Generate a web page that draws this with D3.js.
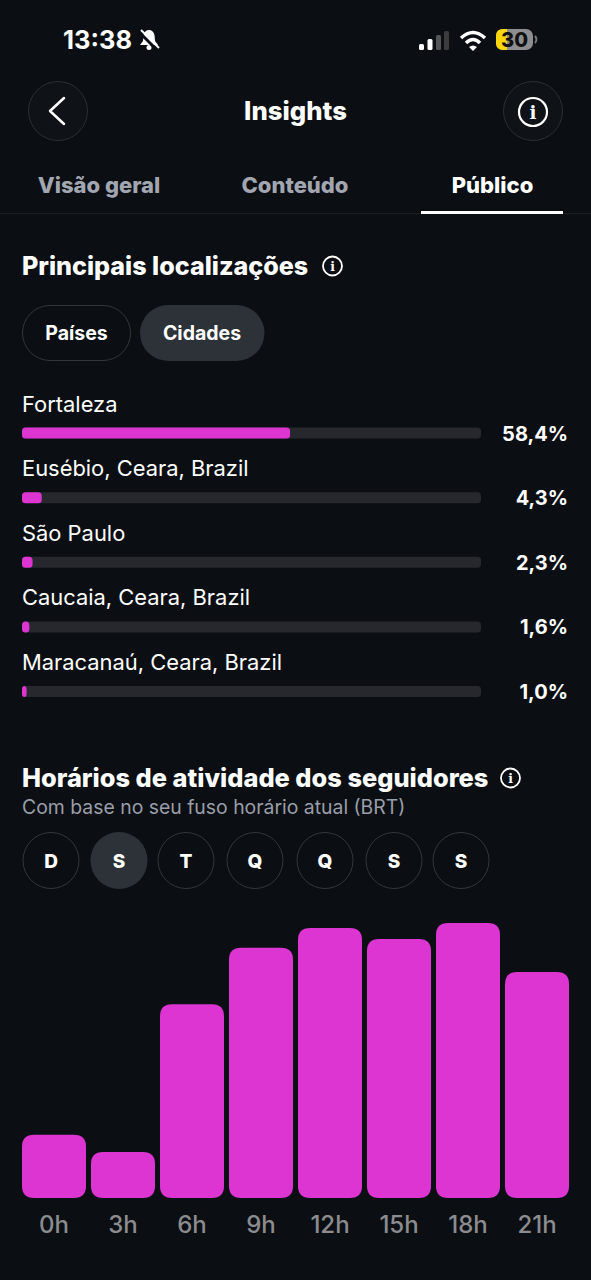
<!DOCTYPE html>
<html><head><meta charset="utf-8">
<script src="https://cdn.jsdelivr.net/npm/d3@7"></script>
<style>html,body{margin:0;padding:0;background:#0b0f14}svg{display:block}text{font-family:Inter,"Noto Sans",sans-serif}</style>
</head><body><svg id="c" width="591" height="1280"></svg>
<script>
const cities=["Fortaleza","Eusébio, Ceara, Brazil","São Paulo","Caucaia, Ceara, Brazil","Maracanaú, Ceara, Brazil"];
const cityValues=[58.4,4.3,2.3,1.6,1.0];
const cityLabels=["58,4%","4,3%","2,3%","1,6%","1,0%"];
const hours=["0h","3h","6h","9h","12h","15h","18h","21h"];
const activity=[23,16.7,70.5,91,98.2,94.2,100,82.2];
const days=["D","S","T","Q","Q","S","S"];
const dayX=[51,119,186,255,325,394,461];
const tabs=["Visão geral","Conteúdo","Público"];
const tabX=[99,295,492.5];

const PINK="#dd35d2",BG="#0b0f14",TRACK="#26282e",GREY="#9a9ea8";
const svg=d3.select("#c");
svg.append("rect").attr("width",591).attr("height",1280).attr("fill",BG);
const T=(x,y,s,size,weight,fill,anchor)=>svg.append("text").attr("x",x).attr("y",y).attr("font-size",size).attr("font-weight",weight).attr("fill",fill||"#fff").attr("text-anchor",anchor||"start").text(s);
function info(cx,cy,r,sw){
 const g=svg.append("g");
 g.append("circle").attr("cx",cx).attr("cy",cy).attr("r",r).attr("fill","none").attr("stroke","#fff").attr("stroke-width",sw);
 g.append("text").attr("x",cx).attr("y",cy+r*0.48).attr("text-anchor","middle").attr("font-size",r*1.3).attr("font-weight",700).attr("fill","#fff").style("font-family","'DejaVu Serif',serif").text("i");
}
// status bar
T(63,49,"13:38",25.5,700);
const bell=svg.append("g").attr("fill","none").attr("stroke","#fff");
bell.append("path").attr("d","M140 45 L158 45 L155 41 L154.5 35 Q153 30 149 30 Q145 30 143.500 35 L143 41 Z").attr("fill","#fff").attr("stroke","none");
bell.append("circle").attr("cx",149).attr("cy",47.500).attr("r",2.500).attr("fill","#fff").attr("stroke","none");
bell.append("line").attr("x1",139).attr("y1",32).attr("x2",157).attr("y2",50).attr("stroke",BG).attr("stroke-width",3);
bell.append("line").attr("x1",141).attr("y1",30).attr("x2",159).attr("y2",48).attr("stroke-width",2);
[[419,44,5,6,"#fff"],[427.500,39,5,11,"#fff"],[436,35,5,15,"#555"],[444,31,5,19,"#3c3c3c"]].forEach(d=>svg.append("rect").attr("x",d[0]).attr("y",d[1]).attr("width",5).attr("height",d[3]).attr("rx",1.500).attr("fill",d[4]));
const wifi=svg.append("g").attr("fill","none").attr("stroke","#fff").attr("stroke-width",3.500);
wifi.append("path").attr("d","M461 38 Q473 27 485 38");
wifi.append("path").attr("d","M466 43 Q473 36 480 43");
wifi.append("path").attr("d","M469 47 L473 51 L477 47 Q473 44 469 47 Z").attr("fill","#fff").attr("stroke","none");
svg.append("rect").attr("x",496).attr("y",29).attr("width",37).attr("height",21).attr("rx",7).attr("fill","#8e8e8e");
svg.append("path").attr("d","M503 29 H507 V50 H503 Q496 50 496 43 V36 Q496 29 503 29 Z").attr("fill","#ffd60a");
svg.append("path").attr("d","M535 36 Q538 39.500 535 43").attr("fill","none").attr("stroke","#777").attr("stroke-width",2);
T(514.500,47,"30",20,800,"#111","middle");
// header
[[58,111],[533,111]].forEach(d=>svg.append("circle").attr("cx",d[0]).attr("cy",d[1]).attr("r",29.500).attr("fill","#0f1318").attr("stroke","#2b2e33").attr("stroke-width",1));
svg.append("path").attr("d","M64 98 L50 111 L64 124").attr("fill","none").attr("stroke","#fff").attr("stroke-width",2.500).attr("stroke-linecap","round").attr("stroke-linejoin","round");
info(533,112,14,2.200);
T(295.500,120,"Insights",25.7,800,"#fff","middle");
// tabs
tabs.forEach((t,i)=>T(tabX[i],193,t,22,800,i==2?"#fff":"#a2a6b0","middle"));
svg.append("rect").attr("x",0).attr("y",213).attr("width",591).attr("height",1).attr("fill","#1b1e23");
svg.append("rect").attr("x",421).attr("y",211).attr("width",142).attr("height",3).attr("fill","#fff");
// locations
T(22,275,"Principais localizações",25.1,800);
info(332.500,266,9.500,1.800);
svg.append("rect").attr("x",22.500).attr("y",305.500).attr("width",108).attr("height",55).attr("rx",27.500).attr("fill","none").attr("stroke","#33363b");
svg.append("rect").attr("x",140).attr("y",305).attr("width",124.500).attr("height",56).attr("rx",28).attr("fill","#2d3138");
T(76.500,339.500,"Países",19.5,700,"#fff","middle");
T(202,339.500,"Cidades",19.5,700,"#fff","middle");

const xCity=d3.scaleLinear().domain([0,100]).range([22,481]);
const yCity=d3.scalePoint().domain(d3.range(cities.length)).range([433,691.500]);
const rows=svg.append("g").selectAll("g").data(cities).join("g");
rows.append("rect").attr("x",xCity(0)).attr("y",(d,i)=>yCity(i)-5.500).attr("width",xCity(100)-xCity(0)).attr("height",11).attr("rx",3.500).attr("fill",TRACK);
rows.append("rect").attr("x",xCity(0)).attr("y",(d,i)=>yCity(i)-5.500).attr("width",(d,i)=>xCity(cityValues[i])-xCity(0)).attr("height",11).attr("rx",3.500).attr("fill",PINK);
rows.append("text").attr("x",22).attr("y",(d,i)=>yCity(i)-21.500).attr("font-size",21.9).attr("font-weight",400).attr("fill","#fff").text(d=>d);
rows.append("text").attr("x",568).attr("y",(d,i)=>yCity(i)+7.500).attr("text-anchor","end").attr("font-size",20).attr("font-weight",700).attr("fill","#fff").text((d,i)=>cityLabels[i]);
// activity
T(22,787,"Horários de atividade dos seguidores",25.4,800);
info(510.500,778,9.500,1.800);
T(22,814,"Com base no seu fuso horário atual (BRT)",19.4,400,GREY);
days.forEach((d,i)=>{
 svg.append("circle").attr("cx",dayX[i]).attr("cy",860.500).attr("r",i==1?28.500:28).attr("fill",i==1?"#2d3138":"none").attr("stroke",i==1?"none":"#33363b");
 T(dayX[i],867.5,d,19,800,"#fff","middle");
});
const x=d3.scaleBand().domain(hours).range([22,569]).paddingInner(0.0725).paddingOuter(0);
const y=d3.scaleLinear().domain([0,100]).range([1198,923]);
svg.append("g").selectAll("path").data(hours).join("path").attr("fill",PINK).attr("d",(h,i)=>{
 const p=d3.path(),x0=x(h),x1=x0+x.bandwidth(),y0=y(activity[i]),y1=y(0),r=12;
 p.moveTo(x0+r,y0);p.lineTo(x1-r,y0);p.quadraticCurveTo(x1,y0,x1,y0+r);p.lineTo(x1,y1-r);p.quadraticCurveTo(x1,y1,x1-r,y1);p.lineTo(x0+r,y1);p.quadraticCurveTo(x0,y1,x0,y1-r);p.lineTo(x0,y0+r);p.quadraticCurveTo(x0,y0,x0+r,y0);p.closePath();return p.toString();
});
const ax=svg.append("g").attr("transform","translate(0,1198)").call(d3.axisBottom(x).tickSize(0).tickPadding(18));
ax.select(".domain").remove();
ax.selectAll("text").attr("font-size",24).attr("font-weight",500).attr("fill","#8c8c8f").style("font-family","Inter,sans-serif");
</script></body></html>
